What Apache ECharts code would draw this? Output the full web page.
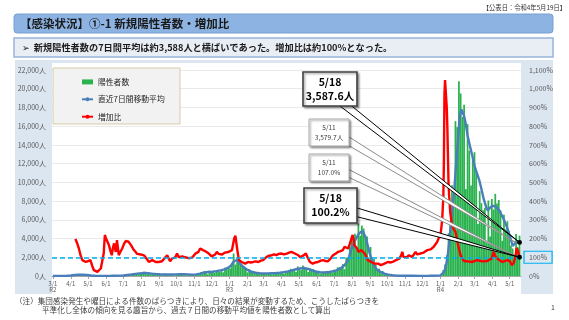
<!DOCTYPE html>
<html><head><meta charset="utf-8">
<script src="https://cdn.jsdelivr.net/npm/echarts@6/dist/echarts.min.js"></script>
<style>html,body{margin:0;padding:0;background:#fff;}#c{width:569px;height:320px;}</style>
</head><body><div id="c"></div>
<script>
// ---------- DATA ----------
const FONT = "'Noto Sans CJK JP','Noto Sans','DejaVu Sans',sans-serif";
const publishText = '【公表日：令和4年5月19日】';
const titleText = '【感染状況】①-1 新規陽性者数・増加比';
const summaryText = '➢  新規陽性者数の7日間平均は約3,588人と横ばいであった。増加比は約100%となった。';
const noteLines = ['（注）集団感染発生や曜日による件数のばらつきにより、日々の結果が変動するため、こうしたばらつきを',
                   '平準化し全体の傾向を見る趣旨から、過去７日間の移動平均値を陽性者数として算出'];
const seriesNames = ['陽性者数', '直近7日間移動平均', '増加比'];
const eraLabels = {2020: 'R2', 2021: 'R3', 2022: 'R4'};
const xRange = ['2020-03-01', '2022-05-19'];

// daily positives, sampled every 3 days starting 2020-03-02
const positivesStart = '2020-03-02';
const positivesStepDays = 3;
const positives = [
  1,3,6,7,10,12,11,16,47,68,
  66,118,79,189,91,149,107,132,103,112,
  165,87,23,22,10,14,5,3,8,15,
  5,12,26,12,25,48,41,35,55,57,
  54,124,102,224,206,165,290,237,260,131,
  367,292,263,429,188,389,161,339,212,236,
  247,170,211,77,276,146,163,218,88,195,
  78,235,143,177,249,166,184,78,185,124,
  158,215,209,242,157,393,255,493,539,186,
  570,311,533,327,572,621,460,664,392,888,
  708,944,
  814,1278,2392,1219,1502,1592,1274,1070,1026,868,
  393,734,429,412,369,378,353,272,340,329,
  316,293,290,304,175,323,256,420,430,364,
  446,249,545,421,591,759,711,759,425,1027,
  708,621,1121,925,854,419,843,535,743,614,
  471,472,235,439,304,501,388,435,562,317,
  673,518,920,950,830,1271,727,1979,1763,3177,
  4058,4166,4515,2884,5600,4295,5386,5074,4220,4227,
  1915,3099,1853,1834,1273,611,782,302,531,234,
  267,200,87,138,49,62,40,36,32,29,
  22,9,17,21,24,31,13,25,8,16,
  14,16,17,12,25,9,21,19,22,37,
  41,78,
  103,641,1223,2198,4561,5526,9699,8503,16538,15895,
  20800,19500,17000,18287,9286,16213,13386,9657,12484,13221,
  11159,5541,9063,7780,7010,7297,3536,8060,4224,8226,
  7100,8776,7745,8118,7020,3768,6530,4974,5847,4767,
  3262,2936,2116,4487,3059,4313
];

// 7-day moving average (人)
const avg7 = [
  ['2020-03-01',3],['2020-03-15',10],['2020-03-25',25],['2020-04-01',55],['2020-04-08',110],['2020-04-15',150],
  ['2020-04-22',130],['2020-04-29',105],['2020-05-06',60],['2020-05-13',25],['2020-05-20',10],['2020-05-27',10],
  ['2020-06-03',18],['2020-06-10',20],['2020-06-17',30],['2020-06-24',45],['2020-07-01',60],['2020-07-08',110],
  ['2020-07-15',160],['2020-07-22',230],['2020-07-29',260],['2020-08-05',340],['2020-08-12',300],['2020-08-19',250],
  ['2020-08-26',210],['2020-09-02',180],['2020-09-09',160],['2020-09-16',170],['2020-09-23',160],['2020-09-30',170],
  ['2020-10-07',180],['2020-10-14',180],['2020-10-21',170],['2020-10-28',150],['2020-11-04',170],['2020-11-11',260],
  ['2020-11-18',380],['2020-11-25',430],['2020-12-02',460],['2020-12-09',520],['2020-12-16',600],['2020-12-23',700],
  ['2020-12-30',900],
  ['2021-01-04',1150],['2021-01-08',1550],['2021-01-11',1750],['2021-01-14',1700],['2021-01-18',1400],['2021-01-22',1150],
  ['2021-01-26',900],['2021-02-01',650],['2021-02-08',450],['2021-02-15',350],['2021-02-22',300],['2021-03-01',280],
  ['2021-03-08',280],['2021-03-15',300],['2021-03-22',320],['2021-03-29',350],['2021-04-05',420],['2021-04-12',480],
  ['2021-04-19',600],['2021-04-26',720],['2021-05-03',800],['2021-05-10',850],['2021-05-17',750],['2021-05-24',600],
  ['2021-05-31',450],['2021-06-07',400],['2021-06-14',380],['2021-06-21',420],['2021-06-28',480],['2021-07-05',600],
  ['2021-07-12',800],['2021-07-19',1150],['2021-07-23',1500],['2021-07-27',2100],['2021-07-31',2900],['2021-08-04',3600],
  ['2021-08-08',4000],['2021-08-12',4450],['2021-08-16',4700],['2021-08-20',4750],['2021-08-24',4200],['2021-08-28',3300],
  ['2021-09-01',2300],['2021-09-05',1600],['2021-09-09',1000],['2021-09-13',700],['2021-09-19',450],['2021-09-26',250],
  ['2021-10-03',150],['2021-10-10',80],['2021-10-17',45],['2021-10-24',30],['2021-10-31',20],['2021-11-14',20],
  ['2021-11-28',15],['2021-12-12',20],['2021-12-26',45],
  ['2022-01-01',70],['2022-01-04',150],['2022-01-07',400],['2022-01-10',900],['2022-01-13',1900],['2022-01-16',3400],
  ['2022-01-19',5400],['2022-01-22',7400],['2022-01-25',9200],['2022-01-28',11800],['2022-01-31',14200],['2022-02-03',16700],
  ['2022-02-06',17800],['2022-02-08',18000],['2022-02-11',17100],['2022-02-14',16200],['2022-02-17',15000],['2022-02-21',13900],
  ['2022-02-25',12900],['2022-03-01',11800],['2022-03-05',11000],['2022-03-09',10300],['2022-03-13',9300],['2022-03-17',8200],
  ['2022-03-21',7400],['2022-03-24',7000],['2022-03-28',7300],['2022-04-01',7500],['2022-04-05',7450],['2022-04-09',7300],
  ['2022-04-13',7000],['2022-04-17',6500],['2022-04-21',6000],['2022-04-25',5400],['2022-04-29',4700],['2022-05-03',3900],
  ['2022-05-06',3200],['2022-05-09',3350],['2022-05-11',3579.7],['2022-05-14',3700],['2022-05-18',3587.6]
];

// increase ratio (%)
const ratio = [
  ['2020-04-09',198],['2020-04-12',175],['2020-04-15',147],['2020-04-18',110],['2020-04-21',85],['2020-04-24',80],
  ['2020-04-27',75],['2020-05-01',80],['2020-05-05',85],['2020-05-08',55],['2020-05-11',31],['2020-05-14',28],
  ['2020-05-17',22],['2020-05-20',30],['2020-05-23',40],['2020-05-26',31],['2020-05-28',120],['2020-05-30',219],
  ['2020-06-01',200],['2020-06-02',205],['2020-06-04',180],['2020-06-06',165],['2020-06-09',130],['2020-06-11',111],
  ['2020-06-13',150],['2020-06-15',174],['2020-06-17',140],['2020-06-18',129],['2020-06-20',192],['2020-06-22',140],
  ['2020-06-23',111],['2020-06-26',130],['2020-06-29',147],['2020-07-02',170],['2020-07-05',187],['2020-07-08',190],
  ['2020-07-10',183],['2020-07-13',170],['2020-07-16',156],['2020-07-19',140],['2020-07-22',129],['2020-07-25',118],
  ['2020-07-28',111],['2020-07-31',115],['2020-08-03',120],['2020-08-06',110],['2020-08-08',102],['2020-08-11',90],
  ['2020-08-14',75],['2020-08-17',80],['2020-08-20',85],['2020-08-23',80],['2020-08-26',75],['2020-08-29',82],
  ['2020-08-31',75],['2020-09-03',80],['2020-09-06',79],['2020-09-09',90],['2020-09-12',100],['2020-09-15',111],
  ['2020-09-18',90],['2020-09-20',79],['2020-09-23',92],['2020-09-26',85],['2020-09-29',100],['2020-10-02',120],
  ['2020-10-05',100],['2020-10-08',93],['2020-10-11',105],['2020-10-13',111],['2020-10-16',100],['2020-10-19',97],
  ['2020-10-22',95],['2020-10-25',93],['2020-10-28',98],['2020-10-31',102],['2020-11-03',120],['2020-11-06',125],
  ['2020-11-08',129],['2020-11-11',147],['2020-11-14',140],['2020-11-16',138],['2020-11-20',132],['2020-11-23',129],
  ['2020-11-26',120],['2020-11-28',111],['2020-12-01',105],['2020-12-04',102],['2020-12-07',115],['2020-12-10',129],
  ['2020-12-13',118],['2020-12-16',111],['2020-12-19',115],['2020-12-21',120],['2020-12-24',125],['2020-12-27',129],
  ['2020-12-30',128],
  ['2021-01-02',129],['2021-01-05',138],['2021-01-07',170],['2021-01-09',201],['2021-01-11',215],['2021-01-12',210],
  ['2021-01-14',147],['2021-01-17',85],['2021-01-20',78],['2021-01-22',75],['2021-01-25',70],['2021-01-28',66],
  ['2021-01-31',70],['2021-02-02',75],['2021-02-06',72],['2021-02-11',75],['2021-02-15',78],['2021-02-20',75],
  ['2021-02-24',82],['2021-02-28',85],['2021-03-03',95],['2021-03-06',102],['2021-03-10',108],['2021-03-15',111],
  ['2021-03-19',115],['2021-03-23',111],['2021-03-27',118],['2021-04-01',120],['2021-04-05',115],['2021-04-10',120],
  ['2021-04-14',125],['2021-04-18',129],['2021-04-21',125],['2021-04-24',120],['2021-04-27',115],['2021-04-30',111],
  ['2021-05-03',100],['2021-05-05',93],['2021-05-09',110],['2021-05-13',120],['2021-05-16',100],['2021-05-20',75],
  ['2021-05-25',66],['2021-05-29',72],['2021-06-03',75],['2021-06-08',82],['2021-06-12',85],['2021-06-16',80],
  ['2021-06-20',78],['2021-06-24',90],['2021-06-29',111],['2021-07-04',120],['2021-07-08',129],['2021-07-12',133],
  ['2021-07-16',138],['2021-07-19',156],['2021-07-22',150],['2021-07-25',147],['2021-07-28',170],['2021-07-31',201],
  ['2021-08-02',219],['2021-08-04',190],['2021-08-05',165],['2021-08-07',170],['2021-08-08',174],['2021-08-10',145],
  ['2021-08-12',129],['2021-08-15',135],['2021-08-17',138],['2021-08-20',128],['2021-08-23',120],['2021-08-26',100],
  ['2021-08-28',85],['2021-08-31',80],['2021-09-03',75],['2021-09-06',70],['2021-09-09',66],['2021-09-12',64],
  ['2021-09-15',66],['2021-09-18',62],['2021-09-20',58],['2021-09-23',63],['2021-09-26',66],['2021-09-29',70],
  ['2021-10-02',75],['2021-10-06',72],['2021-10-10',75],['2021-10-13',80],['2021-10-16',85],['2021-10-19',88],
  ['2021-10-22',93],['2021-10-25',110],['2021-10-27',129],['2021-10-29',102],['2021-11-01',93],['2021-11-04',100],
  ['2021-11-07',111],['2021-11-10',105],['2021-11-13',102],['2021-11-16',115],['2021-11-19',129],['2021-11-22',115],
  ['2021-11-24',111],['2021-11-27',120],['2021-11-30',129],['2021-12-03',125],['2021-12-06',130],['2021-12-09',138],
  ['2021-12-12',135],['2021-12-15',142],['2021-12-17',147],['2021-12-20',155],['2021-12-23',165],['2021-12-26',180],
  ['2021-12-29',201],['2021-12-31',215],
  ['2022-01-02',240],['2022-01-04',300],['2022-01-06',420],['2022-01-07',600],['2022-01-08',974],['2022-01-09',1046],
  ['2022-01-11',1040],['2022-01-12',900],['2022-01-13',794],['2022-01-15',500],['2022-01-16',435],['2022-01-18',340],
  ['2022-01-21',273],['2022-01-24',250],['2022-01-27',237],['2022-01-30',190],['2022-02-02',147],['2022-02-05',110],
  ['2022-02-08',93],['2022-02-11',80],['2022-02-14',75],['2022-02-17',78],['2022-02-20',80],['2022-02-25',75],
  ['2022-03-01',80],['2022-03-05',85],['2022-03-08',85],['2022-03-12',80],['2022-03-16',78],['2022-03-19',75],
  ['2022-03-23',80],['2022-03-27',88],['2022-03-31',93],['2022-04-03',129],['2022-04-06',105],['2022-04-09',93],
  ['2022-04-13',85],['2022-04-18',75],['2022-04-22',80],['2022-04-27',85],['2022-05-01',80],['2022-05-05',58],
  ['2022-05-08',70],['2022-05-11',107],['2022-05-13',150],['2022-05-15',135],['2022-05-18',100.2]
];

// annotations (values)
const calloutData = [
  {date: '2022-05-18', value: 3587.6, seriesIndex: 1, unit: '人'},
  {date: '2022-05-11', value: 3579.7, seriesIndex: 1, unit: '人'},
  {date: '2022-05-11', value: 107.0, seriesIndex: 2, unit: '%'},
  {date: '2022-05-18', value: 100.2, seriesIndex: 2, unit: '%'}
];
// annotation layout (positions / styles, separate from data)
const calloutLayout = [
  {x: 303, y: 72, w: 54, h: 34, base: [[336, 103], [348, 103]], strong: true},
  {x: 309, y: 119, w: 40, h: 27, base: [[346, 135], [346, 144]], strong: false},
  {x: 309, y: 154, w: 40, h: 27, base: [[346, 168], [346, 176]], strong: false},
  {x: 304, y: 188, w: 53, h: 35, base: [[354, 207], [354, 216]], strong: true}
];

// ---------- BUILD ----------
const parseT = s => +echarts.time.parse(s);
const DAY = 86400000;
const t0 = parseT(positivesStart);
const barData = positives.map((v, i) => [t0 + i * positivesStepDays * DAY, v]);
const fmtNum = v => v.toLocaleString('en-US');

const chart = echarts.init(document.getElementById('c'));
const option = {
  animation: false,
  textStyle: {fontFamily: FONT},
  grid: {left: 52, right: 48, top: 70, bottom: 44},
  legend: {
    data: [{name: seriesNames[0], icon: 'rect'}, {name: seriesNames[1]}, {name: seriesNames[2]}],
    orient: 'vertical', left: 76, top: 73, itemWidth: 11, itemHeight: 5, itemGap: 9.6, z: 10,
    textStyle: {fontSize: 7.8, color: '#262626', fontFamily: FONT}
  },
  xAxis: {
    type: 'time', min: parseT(xRange[0]), max: parseT(xRange[1]),
    minInterval: 28 * DAY, maxInterval: 31 * DAY,
    axisLine: {lineStyle: {color: '#a6a6a6', width: 1}},
    axisTick: {show: true, length: 3, lineStyle: {color: '#a6a6a6'}},
    splitLine: {show: false},
    axisLabel: {
      fontSize: 6, color: '#595959', lineHeight: 6.8, margin: 4, interval: 0, hideOverlap: false,
      fontFamily: FONT,
      formatter: function (val) {
        const d = new Date(val);
        if (d.getDate() !== 1 || d.getHours() !== 0) return '';
        const m = d.getMonth() + 1, y = d.getFullYear();
        let s = m + '/' + d.getDate();
        if (m === 1 || (y === 2020 && m === 3)) s += '\n' + eraLabels[y];
        return s;
      }
    }
  },
  yAxis: [{
    type: 'value', min: 0, max: 22000, interval: 2000,
    axisLine: {show: false}, axisTick: {show: false},
    splitLine: {lineStyle: {color: '#e4e4e4', width: 0.8}},
    axisLabel: {fontSize: 7, color: '#595959', margin: 6, fontFamily: FONT, formatter: v => fmtNum(v) + '人'}
  }, {
    type: 'value', min: 0, max: 1100, interval: 100, position: 'right',
    axisLine: {show: false}, axisTick: {show: false}, splitLine: {show: false},
    axisLabel: {
      fontSize: 7, color: '#595959', margin: 3, fontFamily: FONT,
      formatter: v => v === 100 ? '{hl|100%}' : '{n|' + fmtNum(v) + '%}',
      rich: {
        n: {padding: [0, 5, 0, 5], fontSize: 7, color: '#595959', fontFamily: FONT},
        hl: {padding: [3, 5, 2, 5], borderColor: '#00b0f0', borderWidth: 1.2, fontSize: 7, color: '#595959', fontFamily: FONT}
      }
    }
  }],
  series: [{
    name: seriesNames[0], type: 'bar', data: barData, barWidth: 1.75,
    itemStyle: {color: '#2ab24e'}, z: 2
  }, {
    name: seriesNames[1], type: 'line', data: avg7, symbol: 'none',
    lineStyle: {color: '#4a7ebb', width: 2.4}, itemStyle: {color: '#4a7ebb'}, z: 3
  }, {
    name: seriesNames[2], type: 'line', yAxisIndex: 1, data: ratio, symbol: 'none',
    lineStyle: {color: '#ff0000', width: 2.4}, itemStyle: {color: '#ff0000'}, z: 4,
    markLine: {
      silent: true, symbol: 'none', label: {show: false},
      lineStyle: {color: '#00b0f0', type: [5, 3], width: 1.5},
      data: [{yAxis: 100}]
    }
  }]
};
chart.setOption(option);

// ---------- GRAPHIC (backgrounds, titles, callouts) ----------
const g = [];
g.push({type: 'rect', z: -10, shape: {x: 15, y: 60, width: 538, height: 234}, style: {fill: '#dce6f1'}});
g.push({type: 'rect', z: -9, shape: {x: 52, y: 63, width: 469, height: 231}, style: {fill: '#ffffff'}});
g.push({type: 'rect', z: 6, shape: {x: 53, y: 68, width: 127, height: 56}, style: {fill: '#f2f2f2', stroke: '#d6cda8', lineWidth: 1}});
g.push({type: 'rect', z: 1, shape: {x: 14, y: 14, width: 539, height: 19, r: 3}, style: {fill: '#8db3e2', stroke: '#789fd3', lineWidth: 1}});
g.push({type: 'text', z: 2, style: {text: titleText, x: 20, y: 23.5, textVerticalAlign: 'middle', fontSize: 11.5, fontWeight: 'bold', fill: '#1a1a1a', fontFamily: FONT}});
g.push({type: 'rect', z: 1, shape: {x: 14, y: 38, width: 539, height: 19}, style: {fill: '#e9edf4', stroke: '#97b4da', lineWidth: 1.5}});
g.push({type: 'text', z: 2, style: {text: summaryText, x: 22, y: 47.5, textVerticalAlign: 'middle', fontSize: 9.2, fontWeight: 'bold', fill: '#1a1a1a', fontFamily: FONT}});
g.push({type: 'text', z: 2, style: {text: publishText, x: 566, y: 7.5, textAlign: 'right', textVerticalAlign: 'middle', fontSize: 6.3, fill: '#333', fontFamily: FONT}});
g.push({type: 'text', z: 2, style: {text: noteLines[0], x: 15, y: 301, textVerticalAlign: 'middle', fontSize: 7.6, fill: '#404040', fontFamily: FONT}});
g.push({type: 'text', z: 2, style: {text: noteLines[1], x: 42, y: 310.5, textVerticalAlign: 'middle', fontSize: 7.6, fill: '#404040', fontFamily: FONT}});
g.push({type: 'text', z: 2, style: {text: '1', x: 553, y: 307, textAlign: 'center', textVerticalAlign: 'middle', fontSize: 7, fill: '#404040', fontFamily: FONT}});

calloutData.forEach((c, i) => {
  const L = calloutLayout[i];
  const tip = chart.convertToPixel({seriesIndex: c.seriesIndex}, [parseT(c.date), c.value]);
  const md = c.date.slice(5).split('-').map(Number).join('/');
  const valTxt = c.value.toLocaleString('en-US', {minimumFractionDigits: 1, maximumFractionDigits: 1}) + c.unit;
  const col = L.strong ? '#000' : '#8c8c8c';
  g.push({type: 'polygon', z: 30 + i * 3, shape: {points: [L.base[0], L.base[1], tip]},
    style: {fill: '#ffffff', stroke: col, lineWidth: 1}});
  g.push({type: 'rect', z: 31 + i * 3, shape: {x: L.x, y: L.y, width: L.w, height: L.h},
    style: {fill: '#ffffff', stroke: L.strong ? '#404040' : '#a6a6a6', lineWidth: L.strong ? 1.6 : 1,
      shadowBlur: 2, shadowOffsetX: 1.5, shadowOffsetY: 1.5, shadowColor: 'rgba(0,0,0,0.35)'}});
  g.push({type: 'text', z: 32 + i * 3, style: {text: md + '\n' + valTxt, x: L.x + L.w / 2, y: L.y + L.h / 2,
    textAlign: 'center', textVerticalAlign: 'middle', fontFamily: FONT,
    fontSize: L.strong ? 10.5 : 6.6, fontWeight: L.strong ? 'bold' : 'normal',
    lineHeight: L.strong ? 14 : 10, fill: L.strong ? '#000' : '#404040'}});
  if (L.strong) {
    g.push({type: 'circle', z: 45, shape: {cx: tip[0], cy: tip[1], r: 2.4}, style: {fill: '#000'}});
  }
});
chart.setOption({graphic: g});
</script>
</body></html>
